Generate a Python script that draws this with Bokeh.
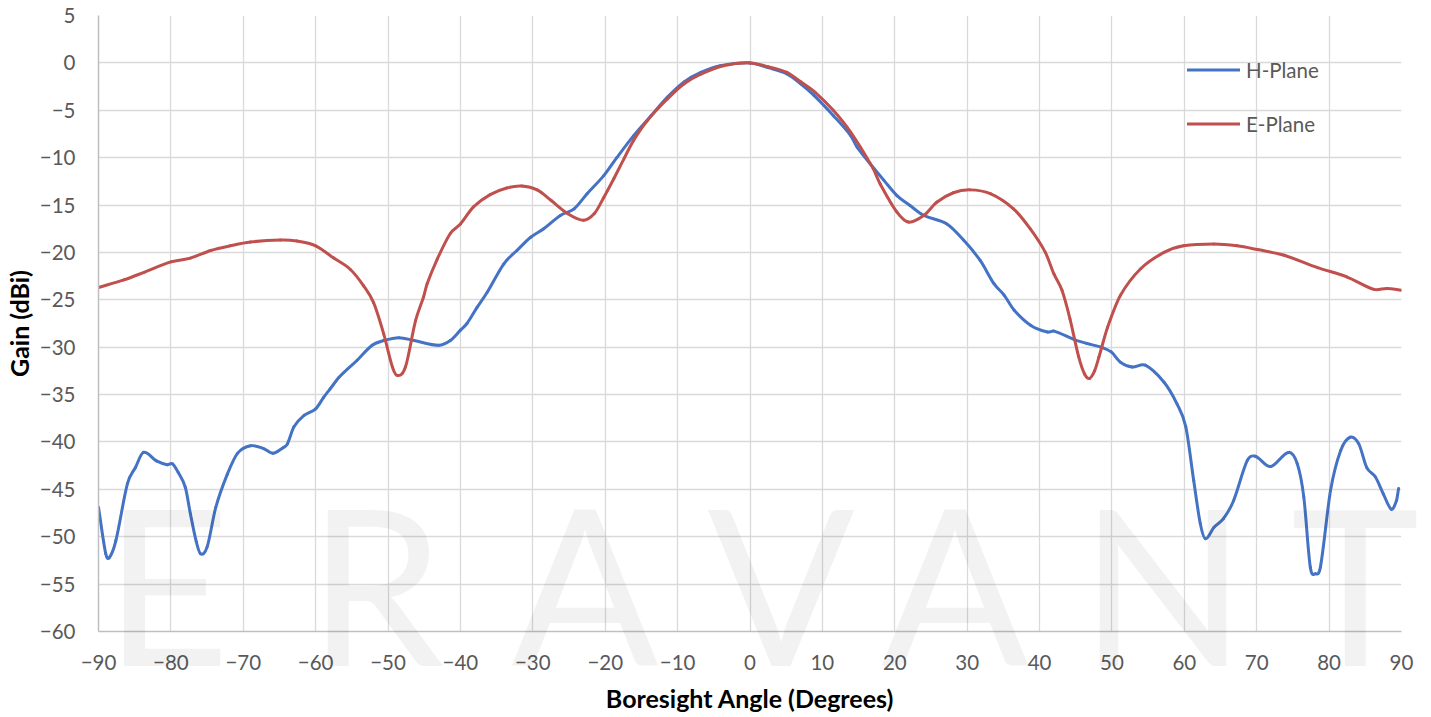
import numpy as np
from bokeh.plotting import figure
from bokeh.layouts import column
from bokeh.models import FixedTicker, Legend, LegendItem, Range1d, ColumnDataSource, Div
from bokeh.embed import file_html
from bokeh.resources import INLINE

# ---------------- data ----------------
h_angle = [-90, -89, -88.5, -87.6, -86, -84.9, -83.8, -82, -80.5, -79.8, -79, -78, -77.3,
           -76.5, -75.9, -75, -73.8, -72.2, -70.8, -69, -67.2, -65.9, -64.5, -63.9, -63,
           -61.6, -60, -58.9, -58, -56.8, -55.6, -54.3, -52.2, -50.6, -48.5, -46.4, -43,
           -41.4, -40, -39.1, -37.7, -36.3, -34, -32.2, -30.3, -28.5, -26.2, -24.3, -22.5,
           -20.2, -18.4, -16.1, -13.7, -11.4, -9.1, -6.8, -4.1, 0, 2.5, 5.1, 7, 8.8, 11.5,
           13.9, 14.8, 16.6, 18.5, 20.3, 22.1, 24, 27.2, 29.5, 31.8, 33.7, 35.1, 36.5, 38.8,
           41.1, 42, 44.8, 46.5, 48.5, 49.9, 51.2, 52.8, 54.6, 57.2, 59, 60.2, 61.3, 62.2,
           62.9, 64.1, 65.4, 66.8, 68.7, 69.8, 71.9, 74.4, 75.6, 76.5, 77.4, 78.1, 78.8,
           80.2, 81.6, 82.9, 84.1, 85.2, 86.4, 87.5, 88.6, 89.3, 89.6]
h_gain = [-46.9, -51.8, -52.2, -50.4, -44.4, -42.7, -41.1, -42.0, -42.4, -42.3, -43.2, -44.8, -47.6,
          -50.5, -51.8, -51.1, -46.9, -43.4, -41.2, -40.4, -40.7, -41.2, -40.6, -40.2, -38.4,
          -37.2, -36.5, -35.3, -34.4, -33.2, -32.3, -31.4, -29.8, -29.3, -29.0, -29.3, -29.8,
          -29.3, -28.2, -27.5, -25.8, -24.2, -21.2, -19.8, -18.4, -17.5, -16.1, -15.4, -13.8,
          -11.9, -10.0, -7.7, -5.6, -3.6, -2.0, -1.0, -0.3, 0.0, -0.5, -1.15, -2.2, -3.4, -5.55,
          -7.66, -8.9, -10.65, -12.4, -14.0, -15.05, -16.1, -17.0, -18.7, -20.85, -23.3, -24.5, -26.1, -27.7,
          -28.4, -28.3, -29.2, -29.6, -30.0, -30.5, -31.6, -32.1, -31.9, -33.7, -36.0, -38.4, -44.1, -48.6,
          -50.2, -49.0, -48.1, -46.2, -41.95, -41.5, -42.6, -41.1, -42.3, -45.8, -53.2, -53.9, -53.2,
          -45.1, -40.9, -39.5, -40.2, -42.7, -43.7, -45.5, -47.1, -46.2, -44.9]

e_angle = [-90, -86.5, -83.7, -80, -77.3, -74.5, -71.8, -69, -64.9, -62.6, -60, -57.5, -55.2,
           -53.4, -52, -50.6, -49.4, -48.7, -47.6, -46.2, -45.1, -44.6, -43.2, -41.4, -40,
           -38.2, -35.9, -33.6, -31.5, -29.4, -27.5, -25.2, -23, -21.5, -20.2, -18.8, -17.4,
           -16.1, -14.2, -11.4, -9.1, -6.8, -3.7, 0, 2.5, 5.1, 7, 9, 11.5, 13.9, 16.9, 18,
           20.3, 21.9, 24, 25.8, 28.1, 30.4, 33.2, 36.4, 38.7, 40.8, 42, 43.1, 44.2, 45.4,
           46.2, 46.9, 47.6, 48.2, 49.4, 51.2, 54, 57.2, 59.9, 64.1, 67.3, 70.1, 73.8, 78.4,
           82.5, 86.2, 88, 90]
e_gain = [-23.7, -22.9, -22.1, -21.0, -20.6, -19.8, -19.3, -18.9, -18.7, -18.8, -19.3, -20.6, -21.8,
          -23.5, -25.3, -28.6, -32.1, -33.0, -32.1, -27.2, -24.7, -23.3, -20.7, -18.0, -17.0,
          -15.2, -13.9, -13.2, -13.0, -13.4, -14.5, -15.9, -16.6, -15.9, -14.2, -12.2, -10.1,
          -8.2, -6.1, -3.8, -2.2, -1.2, -0.3, 0.0, -0.4, -1.0, -2.0, -3.1, -5.0, -7.3, -11.0, -12.8,
          -15.75, -16.8, -16.1, -14.7, -13.7, -13.4, -13.8, -15.4, -17.5, -20.0, -22.3, -24.0, -27.0, -31.0,
          -32.8, -33.3, -32.5, -31.05, -27.9, -24.5, -21.7, -20.0, -19.3, -19.1, -19.3, -19.7, -20.3, -21.6,
          -22.6, -23.9, -23.8, -24.0]

x_ticks = [-90, -80, -70, -60, -50, -40, -30, -20, -10, 0, 10, 20, 30, 40, 50, 60, 70, 80, 90]
y_ticks = [5, 0, -5, -10, -15, -20, -25, -30, -35, -40, -45, -50, -55, -60]
series_names = ["H-Plane", "E-Plane"]
series_colors = ["#4472C4", "#C0504D"]
watermark_letters = ["E", "R", "A", "V", "A", "N", "T"]

FONT = "Lato"
TICK_COLOR = "#595959"
TICK_SIZE = "20.5px"
W, H = 1423, 716


def smooth_source(xs, ys):
    """Bezier segments through the data points (smoothed line, like the original chart)."""
    x = np.asarray(xs, float)
    y = np.asarray(ys, float)
    m = np.empty(len(x))
    m[1:-1] = (y[2:] - y[:-2]) / (x[2:] - x[:-2])
    m[0] = (y[1] - y[0]) / (x[1] - x[0])
    m[-1] = (y[-1] - y[-2]) / (x[-1] - x[-2])
    h = x[1:] - x[:-1]
    return ColumnDataSource(dict(
        x0=x[:-1], y0=y[:-1], x1=x[1:], y1=y[1:],
        cx0=x[:-1] + h / 3, cy0=y[:-1] + m[:-1] * h / 3,
        cx1=x[1:] - h / 3, cy1=y[1:] - m[1:] * h / 3))


p = figure(width=W, height=H, output_backend="svg", toolbar_location=None,
           x_range=Range1d(-90, 90), y_range=Range1d(-60, 5),
           min_border_left=98, min_border_right=22, min_border_top=15, min_border_bottom=85)
p.outline_line_color = None
p.background_fill_color = "white"
p.border_fill_color = "white"

legend_items = []
for name, color, xs, ys in zip(series_names, series_colors, [h_angle, e_angle], [h_gain, e_gain]):
    p.bezier(x0="x0", y0="y0", x1="x1", y1="y1", cx0="cx0", cy0="cy0", cx1="cx1", cy1="cy1",
             source=smooth_source(xs, ys), line_color=color, line_width=3, line_cap="round")
    # single-point line: draws nothing itself, only provides the legend sample
    proxy = p.line(x=xs[:1], y=ys[:1], line_color=color, line_width=3, line_cap="round")
    legend_items.append(LegendItem(label=name, renderers=[proxy]))

for ax in (p.xaxis[0], p.yaxis[0]):
    ax.major_tick_line_color = None
    ax.minor_tick_line_color = None
    ax.major_tick_out = 0
    ax.major_tick_in = 0
    ax.axis_line_color = "#bfbfbf"
    ax.axis_line_width = 1.5
    ax.major_label_text_font = FONT
    ax.major_label_text_font_size = TICK_SIZE
    ax.major_label_text_color = TICK_COLOR
    ax.axis_label_text_font = FONT
    ax.axis_label_text_font_size = "25px"
    ax.axis_label_text_font_style = "bold"
    ax.axis_label_text_color = "black"

p.xaxis.ticker = FixedTicker(ticks=x_ticks)
p.yaxis.ticker = FixedTicker(ticks=y_ticks)
p.xaxis.axis_label = "Boresight Angle (Degrees)"
p.yaxis.axis_label = "Gain (dBi)"
p.xaxis.major_label_standoff = 23
p.xaxis.axis_label_standoff = 10
p.yaxis.major_label_standoff = 23
p.yaxis.axis_label_standoff = 3

p.xgrid.ticker = FixedTicker(ticks=x_ticks)
p.ygrid.ticker = FixedTicker(ticks=y_ticks)
for g in (p.xgrid[0], p.ygrid[0]):
    g.grid_line_color = "#d9d9d9"
    g.grid_line_width = 1.3

legend = Legend(items=legend_items, location=(1089, 495), orientation="vertical")
legend.padding = 0
legend.margin = 0
legend.spacing = 29
legend.glyph_width = 53
legend.glyph_height = 25
legend.label_height = 25
legend.label_standoff = 6
legend.label_text_font = FONT
legend.label_text_font_size = TICK_SIZE
legend.label_text_color = TICK_COLOR
legend.background_fill_alpha = 0
legend.border_line_color = None
p.add_layout(legend, "center")

# light "ERAVANT" watermark laid over the whole chart (it extends below the plot area)
wm_centers = [162, 371, 580, 776, 950, 1158, 1350]
wm_text = "".join(
    f'<text x="{cx}" y="661" text-anchor="middle">{ch}</text>'
    for ch, cx in zip(watermark_letters, wm_centers))
wm_svg = (f'<svg width="{W}" height="{H}" xmlns="http://www.w3.org/2000/svg" '
          f'style="font-family:Lato;font-size:218px;fill:#000;fill-opacity:0.05">{wm_text}</svg>')
watermark = Div(text=wm_svg, width=W, height=H,
                styles={"position": "absolute", "left": "0px", "top": "0px",
                        "pointer-events": "none", "z-index": "2"})

layout = column(p, watermark, width=W, height=H)
open("out.html", "w").write(file_html(layout, INLINE))
